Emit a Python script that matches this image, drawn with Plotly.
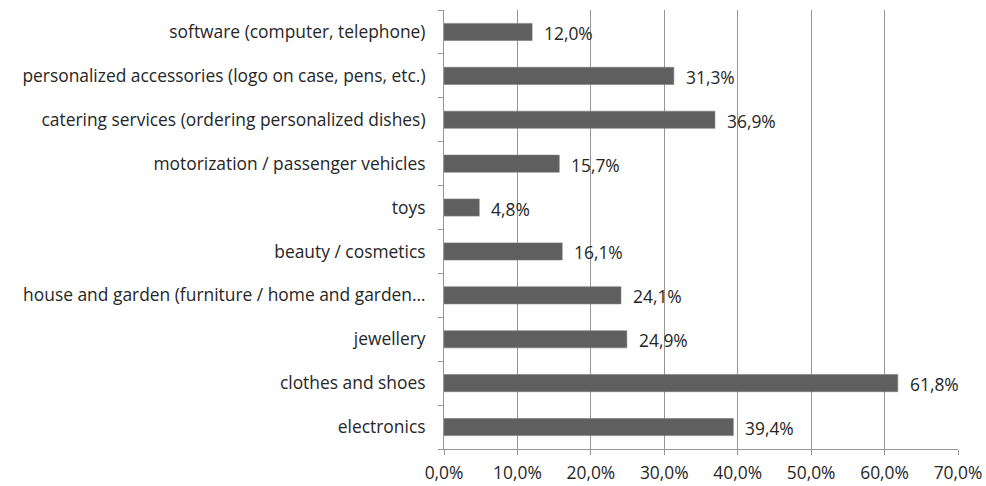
import plotly.graph_objects as go

categories = [
    "electronics",
    "clothes and shoes",
    "jewellery",
    "house and garden (furniture / home and garden…",
    "beauty / cosmetics",
    "toys",
    "motorization / passenger vehicles",
    "catering services (ordering personalized dishes)",
    "personalized accessories (logo on case, pens, etc.)",
    "software (computer, telephone)",
]
values = [39.4, 61.8, 24.9, 24.1, 16.1, 4.8, 15.7, 36.9, 31.3, 12.0]
tick_vals = [0, 10, 20, 30, 40, 50, 60, 70]
tick_text = ["0,0%", "10,0%", "20,0%", "30,0%", "40,0%", "50,0%", "60,0%", "70,0%"]

labels = [f"{v:.1f}%".replace(".", ",") for v in values]

FONT = "Open Sans"
FS = 17.4
TXT = "#262626"

fig = go.Figure(go.Bar(
    x=values, y=categories, orientation="h",
    marker=dict(color="#5f5f5f", line=dict(color="#7a7a7a", width=0.6)),
    width=0.39,
))

for c, v, t in zip(categories, values, labels):
    fig.add_annotation(x=v, y=c, text=t, showarrow=False, xanchor="left",
                       xshift=10, yshift=-1, font=dict(family=FONT, size=FS, color=TXT))

fig.update_layout(
    width=986, height=486,
    margin=dict(l=444, r=28, t=10, b=37),
    paper_bgcolor="white", plot_bgcolor="white",
    showlegend=False,
    font=dict(family=FONT, size=FS, color=TXT),
)
fig.update_xaxes(
    range=[0, 70], tickvals=tick_vals, ticktext=tick_text,
    showgrid=True, gridcolor="#969696", gridwidth=1,
    showline=True, linecolor="#969696", linewidth=1,
    ticks="outside", ticklen=5, tickcolor="#969696",
    ticklabelstandoff=3, automargin=False,
    zeroline=False, tickfont=dict(family=FONT, size=FS, color=TXT),
)
fig.update_yaxes(
    showline=True, linecolor="#969696", linewidth=1,
    ticks="outside", ticklen=5, tickcolor="#969696",
    tickson="boundaries", showgrid=False,
    ticklabelstandoff=14, automargin=False,
    tickfont=dict(family=FONT, size=FS, color=TXT),
)

fig.write_html("out.html")
